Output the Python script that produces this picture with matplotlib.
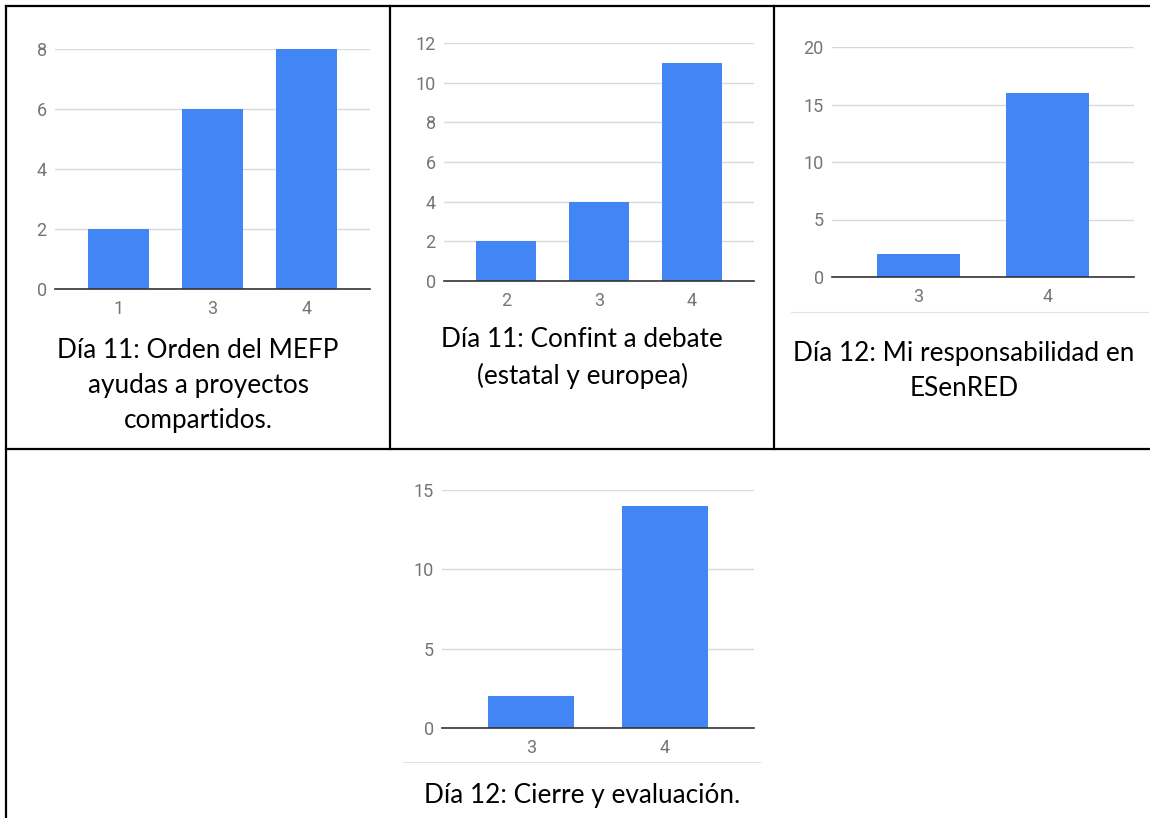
import matplotlib
matplotlib.use('Agg')
import matplotlib.pyplot as plt
from matplotlib.lines import Line2D
import numpy as np

# datos de cada gráfico
cats1 = ['1', '3', '4']
vals1 = [2, 6, 8]
cats2 = ['2', '3', '4']
vals2 = [2, 4, 11]
cats3 = ['3', '4']
vals3 = [2, 16]
cats4 = ['3', '4']
vals4 = [2, 14]

title1 = 'Día 11: Orden del MEFP\nayudas a proyectos\ncompartidos.'
title2 = 'Día 11: Confint a debate\n(estatal y europea)'
title3 = 'Día 12: Mi responsabilidad en\nESenRED'
title4 = 'Día 12: Cierre y evaluación.'

W, H = 1150, 818
BLUE = '#4285f4'
GRID = '#d9d9d9'
TICK = '#757575'

fig = plt.figure(figsize=(W / 100, H / 100), dpi=100)


def px_line(x0, y0, x1, y1, color='black', lw=1.6):
    fig.add_artist(Line2D([x0 / W, x1 / W], [1 - y0 / H, 1 - y1 / H],
                          color=color, linewidth=lw, transform=fig.transFigure))


def chart(cats, vals, ymax, step, x0, x1, ytop, ybot):
    ax = fig.add_axes([x0 / W, 1 - ybot / H, (x1 - x0) / W, (ybot - ytop) / H])
    idx = np.arange(len(cats))
    ax.bar(idx, vals, width=0.645, color=BLUE, zorder=3)
    ax.set_xlim(-0.67, len(cats) - 1 + 0.67)
    ax.set_ylim(0, ymax)
    ax.set_yticks(np.arange(0, ymax + 1, step))
    ax.set_xticks(idx)
    ax.set_xticklabels(cats)
    ax.grid(axis='y', color=GRID, linewidth=1.0, zorder=0)
    for s in ['top', 'right', 'left']:
        ax.spines[s].set_visible(False)
    ax.spines['bottom'].set_color('#333333')
    ax.spines['bottom'].set_linewidth(1.2)
    ax.spines['bottom'].set_zorder(4)
    ax.tick_params(axis='both', length=0, labelcolor=TICK, labelsize=13)
    ax.tick_params(axis='x', pad=8)
    ax.tick_params(axis='y', pad=6)
    for lab in ax.get_xticklabels() + ax.get_yticklabels():
        lab.set_family('Roboto')
    ax.set_facecolor('none')
    return ax


chart(cats1, vals1, 8, 2, 55, 370, 49, 289)
chart(cats2, vals2, 12, 2, 444, 754, 43, 281)
chart(cats3, vals3, 20, 5, 832, 1134, 47, 277)
chart(cats4, vals4, 15, 5, 442, 754, 490, 728)

# títulos bajo cada gráfico
tkw = dict(ha='center', va='top', fontsize=18.8, family='Lato', color='black',
           linespacing=1.5)
fig.text(198 / W, 1 - 338 / H, title1, **tkw)
fig.text(582 / W, 1 - 327 / H, title2, **tkw)
fig.text(964 / W, 1 - 341 / H, title3, **tkw)
fig.text(582 / W, 1 - 783 / H, title4, **tkw)

# líneas grises finas
px_line(791, 312, 1148, 312, color='#e3e3e3', lw=0.8)
px_line(403, 762, 760, 762, color='#e3e3e3', lw=0.8)

# bordes de la tabla
px_line(6, 6, W, 6)
px_line(6, 6, 6, H)
px_line(390, 6, 390, 449)
px_line(774, 6, 774, 449)
px_line(6, 449, W, 449)

fig.savefig('out.png', dpi=100, facecolor='white')
